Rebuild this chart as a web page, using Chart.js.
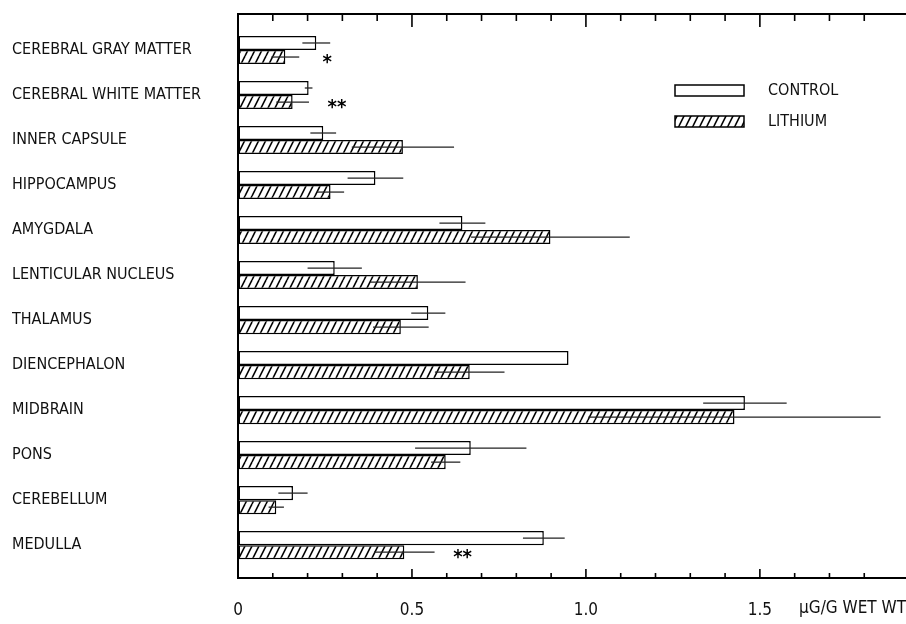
<!DOCTYPE html>
<html>
<head>
<meta charset="utf-8">
<script src="https://cdn.jsdelivr.net/npm/chart.js@4.4.1/dist/chart.umd.min.js"></script>
<style>
  body { margin: 0; background: #fff; }
</style>
</head>
<body>
<canvas id="chart" width="906" height="624"></canvas>
<script>
const categories = ['CEREBRAL GRAY MATTER', 'CEREBRAL WHITE MATTER', 'INNER CAPSULE', 'HIPPOCAMPUS',
  'AMYGDALA', 'LENTICULAR NUCLEUS', 'THALAMUS', 'DIENCEPHALON', 'MIDBRAIN', 'PONS', 'CEREBELLUM', 'MEDULLA'];
const control = [0.225, 0.203, 0.245, 0.395, 0.645, 0.278, 0.547, 0.950, 1.457, 0.669, 0.158, 0.879];
const controlSE = [0.04, 0.011, 0.037, 0.08, 0.066, 0.078, 0.049, 0, 0.12, 0.16, 0.042, 0.06];
const lithium = [0.136, 0.157, 0.474, 0.266, 0.898, 0.517, 0.468, 0.666, 1.427, 0.597, 0.110, 0.478];
const lithiumSE = [0.04, 0.047, 0.147, 0.039, 0.228, 0.137, 0.08, 0.1, 0.42, 0.042, 0.022, 0.087];
const significance = ['*', '**', '', '', '', '', '', '', '', '', '', '**'];
const xLabelValues = [0, 0.5, 1.0, 1.5];
const xLabels = ['0', '0.5', '1.0', '1.5'];
const unitLabel = 'µG/G WET WT';

const FONT = "'Liberation Sans Narrow', 'Arial Narrow', 'DejaVu Sans Condensed', sans-serif";

function makeHatch() {
  const c = document.createElement('canvas');
  c.width = 7; c.height = 14;
  const g = c.getContext('2d');
  g.fillStyle = '#fff';
  g.fillRect(0, 0, 7, 14);
  g.strokeStyle = '#000';
  g.lineWidth = 1.6;
  for (const dx of [-7, 0, 7]) {
    g.beginPath(); g.moveTo(dx, 14); g.lineTo(dx + 7, 0); g.stroke();
  }
  return g.createPattern(c, 'repeat');
}
const hatch = makeHatch();

const isMajor = v => xLabelValues.some(m => Math.abs(m - v) < 1e-6);

// tick marks pointing into the plot, longer at the labelled values
const insideTicks = {
  id: 'insideTicks',
  afterDraw(chart) {
    const { ctx, chartArea } = chart;
    const top = chart.scales.x2;
    const bottomY = chart.scales.x.top;
    ctx.save();
    ctx.fillStyle = '#000';
    top.ticks.forEach(t => {
      if (t.value < 0.05 || t.value > 1.905) return;
      const px = top.getPixelForValue(t.value);
      const major = isMajor(t.value);
      ctx.fillRect(px - 0.8, chartArea.top, 1.6, major ? 13 : 7);
      ctx.fillRect(px - 0.8, bottomY - (major ? 9 : 5), 1.6, major ? 9 : 5);
    });
    ctx.restore();
  }
};

// significance marks after the lithium error bar
const sigMarks = {
  id: 'sigMarks',
  afterDatasetsDraw(chart) {
    const { ctx } = chart;
    const meta = chart.getDatasetMeta(1);
    const x = chart.scales.x;
    ctx.save();
    ctx.fillStyle = '#000';
    ctx.font = 'bold 20px ' + FONT;
    ctx.textAlign = 'center';
    ctx.textBaseline = 'alphabetic';
    significance.forEach((s, i) => {
      if (!s) return;
      const bar = meta.data[i];
      const px = x.getPixelForValue(lithium[i] + lithiumSE[i]) + 28;
      ctx.fillText(s, px, bar.y + 11);
    });
    ctx.restore();
  }
};

// legend box inside the plot, top right
const boxLegend = {
  id: 'boxLegend',
  afterDraw(chart) {
    const { ctx } = chart;
    ctx.save();
    ctx.font = '16px ' + FONT;
    ctx.textBaseline = 'middle';
    ctx.textAlign = 'left';
    [0, 1].forEach((d, k) => {
      const ds = chart.data.datasets[d];
      const y = 85 + k * 31;
      ctx.fillStyle = ds.backgroundColor;
      ctx.fillRect(675, y, 69, 11);
      ctx.strokeStyle = '#000';
      ctx.lineWidth = 1.5;
      ctx.strokeRect(675, y, 69, 11);
      ctx.fillStyle = '#111';
      ctx.fillText(ds.label, 768, y + 6);
    });
    ctx.restore();
  }
};

const toPoints = vals => vals.map((v, i) => ({ x: v, y: i }));
const toRanges = (vals, se) => vals.map((v, i) => ({ x: [v - se[i], v + se[i]], y: i }));

const catPct = 0.624;

new Chart(document.getElementById('chart'), {
  type: 'bar',
  data: {
    datasets: [
      { label: 'CONTROL', data: toPoints(control), stack: 'c', order: 1,
        backgroundColor: '#fff', borderColor: '#000', borderWidth: 1.5, borderSkipped: false,
        categoryPercentage: catPct, barPercentage: 1 },
      { label: 'LITHIUM', data: toPoints(lithium), stack: 'l', order: 1,
        backgroundColor: hatch, borderColor: '#000', borderWidth: 1.5, borderSkipped: false,
        categoryPercentage: catPct, barPercentage: 1 },
      { label: 'control SE', data: toRanges(control, controlSE), stack: 'c', order: 0,
        backgroundColor: '#222', borderWidth: 0, categoryPercentage: catPct, barPercentage: 0.09 },
      { label: 'lithium SE', data: toRanges(lithium, lithiumSE), stack: 'l', order: 0,
        backgroundColor: '#222', borderWidth: 0, categoryPercentage: catPct, barPercentage: 0.09 }
    ]
  },
  options: {
    indexAxis: 'y',
    responsive: false,
    animation: false,
    layout: { padding: { left: 12, right: 0, top: 0, bottom: 0 } },
    plugins: {
      legend: { display: false },
      tooltip: { enabled: false }
    },
    scales: {
      y: {
        type: 'linear',
        reverse: true,
        offset: false,
        min: -0.8,
        max: 11.73,
        afterBuildTicks: s => { s.ticks = categories.map((c, i) => ({ value: i })); },
        afterFit: s => { s.width = 226; },
        ticks: {
          autoSkip: false,
          crossAlign: 'far',
          color: '#111',
          font: { family: FONT, size: 16 },
          callback: v => categories[v]
        },
        grid: { display: true, drawOnChartArea: false, drawTicks: false, offset: false },
        border: { display: true, color: '#000', width: 2 }
      },
      x: {
        type: 'linear',
        position: 'bottom',
        stacked: false,
        min: 0,
        max: 1.92,
        afterFit: s => { s.height = 46; s.paddingLeft = 0; s.paddingRight = 0; },
        ticks: {
          stepSize: 0.1,
          autoSkip: false,
          maxRotation: 0,
          padding: 22,
          color: '#111',
          font: { family: FONT, size: 17 },
          callback: v => {
            const k = xLabelValues.findIndex(m => Math.abs(m - v) < 1e-6);
            return k < 0 ? '' : xLabels[k];
          }
        },
        title: {
          display: true,
          text: unitLabel,
          align: 'end',
          color: '#111',
          font: { family: FONT, size: 17 },
          padding: { top: 0, bottom: 5 }
        },
        grid: { drawOnChartArea: false, drawTicks: false },
        border: { display: true, color: '#000', width: 2 }
      },
      x2: {
        type: 'linear',
        position: 'top',
        min: 0,
        max: 1.92,
        afterFit: s => { s.height = 14; s.paddingLeft = 0; s.paddingRight = 0; },
        ticks: { stepSize: 0.1, display: false },
        grid: { drawOnChartArea: false, drawTicks: false },
        border: { display: true, color: '#000', width: 2 }
      }
    }
  },
  plugins: [insideTicks, sigMarks, boxLegend]
});
</script>
</body>
</html>
